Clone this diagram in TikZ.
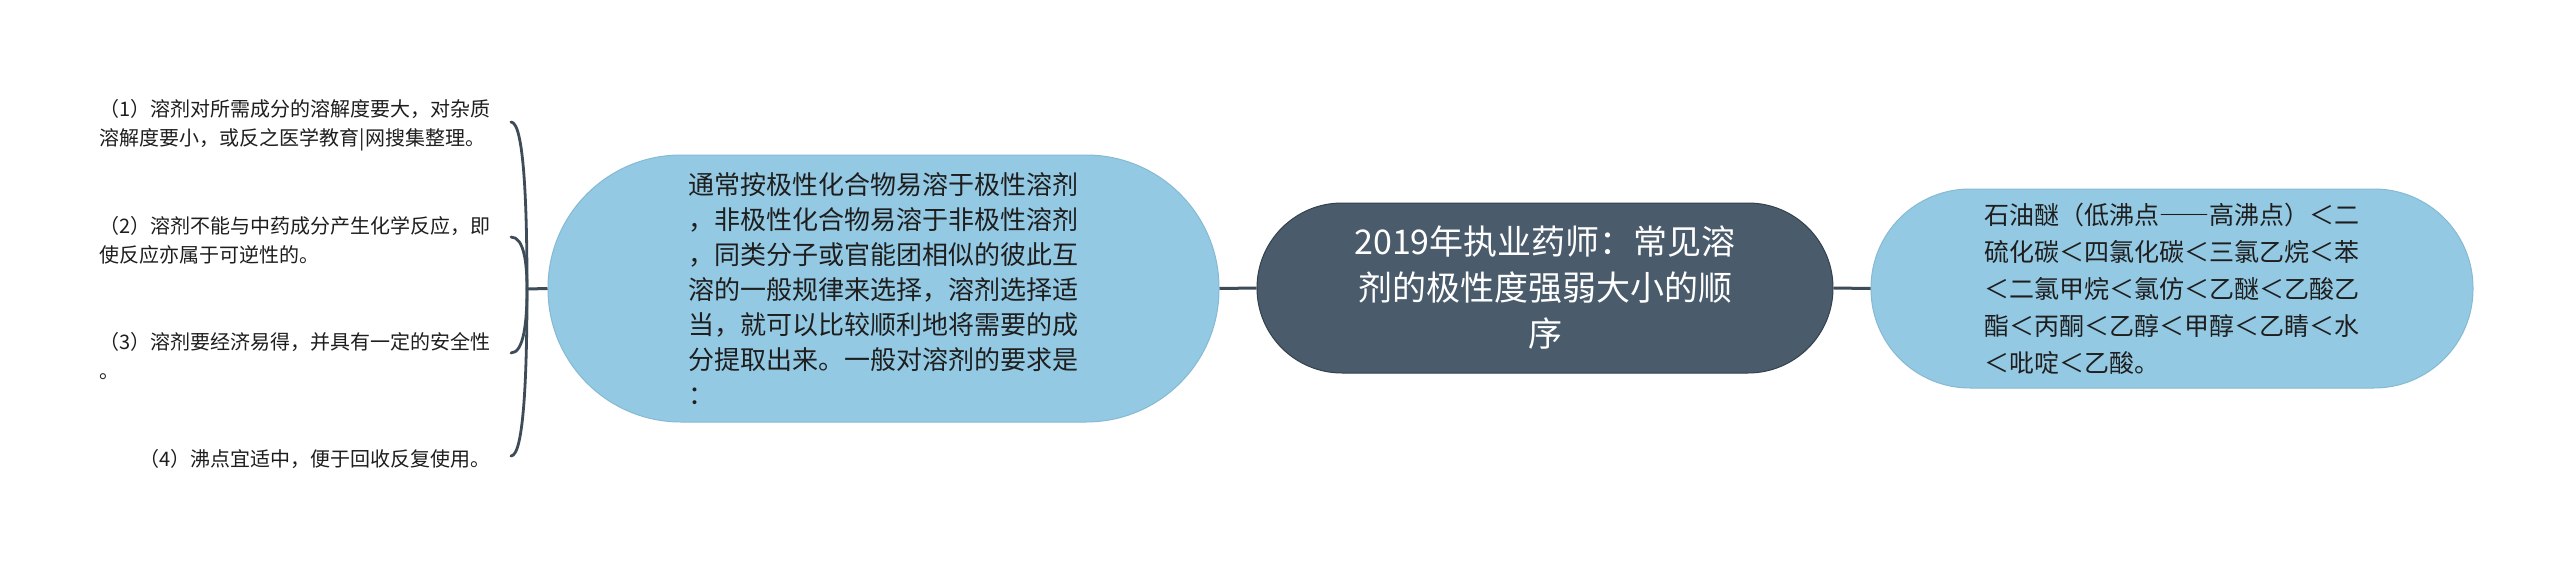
\documentclass[tikz,border=0pt]{standalone}
\usepackage{fontspec}
\newfontfamily\cjk{Noto Sans CJK SC}
\newfontfamily\cjkfw[RawFeature=+fwid]{Noto Sans CJK SC}
\usetikzlibrary{calc}
\definecolor{lblue}{HTML}{94C9E3}
\definecolor{lbluebd}{HTML}{86BAD4}
\definecolor{dslate}{HTML}{4A5B6B}
\definecolor{dslatebd}{HTML}{34414D}
\definecolor{conn}{HTML}{3E4C5A}
\definecolor{txtc}{HTML}{1E1E1E}
\tikzset{
  rootbox/.style={draw=dslatebd, fill=dslate, line width=1pt, rounded corners=85pt,
    minimum width=576pt, minimum height=170pt, inner sep=0pt, text=white, align=center,
    font=\cjk\fontsize{34pt}{46pt}\selectfont},
  leftbox/.style={draw=lbluebd, fill=lblue, line width=1pt, rounded corners=133pt,
    minimum width=671pt, minimum height=267pt, inner sep=0pt, text=txtc, align=left,
    font=\cjk\fontsize{26pt}{35pt}\selectfont},
  rightbox/.style={draw=lbluebd, fill=lblue, line width=1pt, rounded corners=99pt,
    minimum width=602pt, minimum height=199pt, inner sep=0pt, text=txtc, align=left,
    font=\cjk\fontsize{25pt}{37pt}\selectfont},
  itembox/.style={inner sep=0pt, text=txtc, align=left, anchor=east,
    font=\cjk\fontsize{20pt}{29pt}\selectfont},
  link/.style={draw=conn, line width=3pt},
  bracelink/.style={draw=conn, line width=2.8pt, line cap=round},
}
\begin{document}
\begin{tikzpicture}[x=1pt,y=-1pt]
\fill[white] (0,0) rectangle (2560,565);
\useasboundingbox (0,0) rectangle (2560,565);

\node[rootbox] (root) at (1545,288) {2019年执业药师：常见溶\\剂的极性度强弱大小的顺\\序};
\node[leftbox] (mid) at (883.5,288.5) {通常按极性化合物易溶于极性溶剂\\，非极性化合物易溶于非极性溶剂\\，同类分子或官能团相似的彼此互\\溶的一般规律来选择，溶剂选择适\\当，就可以比较顺利地将需要的成\\分提取出来。一般对溶剂的要求是\\：};
\node[rightbox] (rt) at (2172,288.5) {石油醚（低沸点{\cjkfw ——}高沸点）＜二\\硫化碳＜四氯化碳＜三氯乙烷＜苯\\＜二氯甲烷＜氯仿＜乙醚＜乙酸乙\\酯＜丙酮＜乙醇＜甲醇＜乙睛＜水\\＜吡啶＜乙酸。};

\node[itembox] (c1) at (491,125) {（1）溶剂对所需成分的溶解度要大，对杂质\\溶解度要小，或反之医学教育|网搜集整理。};
\node[itembox] (c2) at (491,240) {（2）溶剂不能与中药成分产生化学反应，即\\使反应亦属于可逆性的。};
\node[itembox] (c3) at (491,356) {（3）溶剂要经济易得，并具有一定的安全性\\。};
\node[itembox] (c4) at (491,459) {（4）沸点宜适中，便于回收反复使用。};

\coordinate (J) at (527,289);

\draw[link] (root.west) -- (mid.east);
\draw[link] (root.east) -- (rt.west);
\draw[link] (J) -- (mid.west);

\draw[bracelink] ([xshift=20pt,yshift=3pt]c1.east) .. controls +(13,0) and (527,205) .. (J);
\draw[bracelink] ([xshift=20pt,yshift=3pt]c2.east) .. controls +(13,0) and (527,263) .. (J);
\draw[bracelink] ([xshift=20pt,yshift=3pt]c3.east) .. controls +(13,0) and (527,321) .. (J);
\draw[bracelink] ([xshift=20pt,yshift=3pt]c4.east) .. controls +(13,0) and (527,372) .. (J);
\end{tikzpicture}
\end{document}
